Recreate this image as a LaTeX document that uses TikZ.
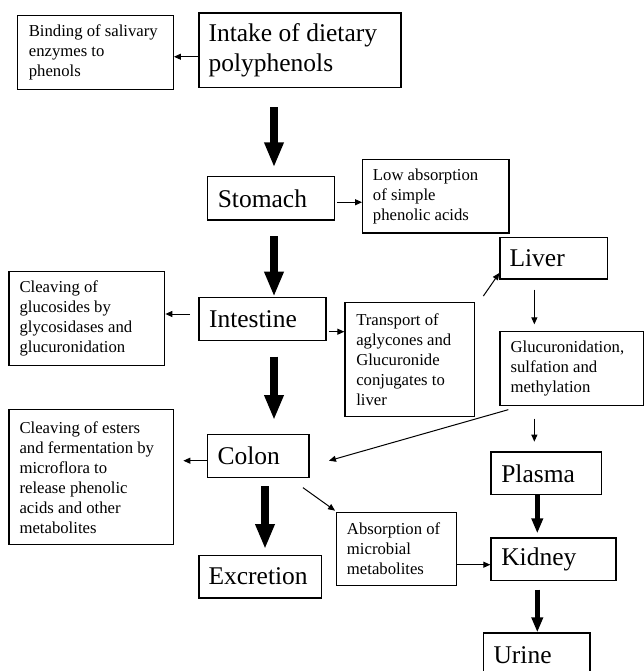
\documentclass[tikz,border=0pt]{standalone}
\usepackage{fontspec}
\setmainfont{LiberationSerif}[Extension=.ttf, UprightFont=*-Regular, BoldFont=*-Bold, ItalicFont=*-Italic, BoldItalicFont=*-BoldItalic]
\usetikzlibrary{arrows.meta}
\tikzset{
  boxshape/.style={draw, line width=1.3pt, rectangle, inner sep=0pt},
  smalltxt/.style={anchor=west, inner sep=0pt, align=left, font=\rmfamily\fontsize{16.7}{20}\selectfont},
  bigtxt/.style={anchor=west, inner sep=0pt, align=left, font=\rmfamily\fontsize{25.5}{30}\selectfont},
  thinarrow/.style={line width=1pt, -{Triangle[length=7pt,width=6pt]}},
  bigarrow/.style={line width=8pt, -{Triangle[length=25pt,width=18pt]}},
  midarrow/.style={line width=4.5pt, -{Triangle[length=15pt,width=11pt]}},
}
% \mybox{name}{left}{top}{right}{bottom}
\newcommand{\mybox}[5]{%
  \node[boxshape, minimum width={(#4-#2)*1pt}, minimum height={(#5-#3)*1pt}] (#1) at ({(#2+#4)/2},{(#3+#5)/2}) {};}
\begin{document}
\begin{tikzpicture}[x=1pt,y=-1pt]
\clip (0,0) rectangle (644,671);
\fill[white] (0,0) rectangle (644,671);

% boxes
\mybox{bind}{17.3}{15.7}{173.3}{89.3}
\mybox{intake}{199}{13}{401}{87.3}
\mybox{stomach}{207.7}{176.7}{334.3}{220}
\mybox{lowabs}{362.7}{159.3}{509}{233}
\mybox{liver}{500}{237.3}{607.7}{279}
\mybox{gluco}{9}{271.7}{164.7}{365.7}
\mybox{intestine}{199}{297.3}{326}{340.5}
\mybox{transport}{345}{302.3}{474.3}{416.7}
\mybox{gluc}{500}{331.3}{643.3}{405.7}
\mybox{esters}{9}{409.7}{173.3}{544.7}
\mybox{colon}{207.3}{434.7}{309}{477.5}
\mybox{plasma}{491}{452}{601.7}{494.7}
\mybox{absorb}{336.7}{512.3}{456.7}{585.7}
\mybox{kidney}{491}{538}{616}{580.7}
\mybox{excretion}{199}{555.3}{321.7}{598}
\mybox{urine}{483.3}{633}{590}{677}

% texts
\node[smalltxt] (tbind) at ([xshift=12pt]bind.west) {Binding of salivary\\enzymes to\\phenols};
\node[bigtxt] (tintake) at ([xshift=10pt]intake.west) {Intake of dietary\\polyphenols};
\node[bigtxt] (tstomach) at ([xshift=10.5pt]stomach.west) {Stomach};
\node[smalltxt] (tlowabs) at ([xshift=10.7pt]lowabs.west) {Low absorption\\of simple\\phenolic acids};
\node[bigtxt] (tliver) at ([xshift=10pt]liver.west) {Liver};
\node[smalltxt] (tgluco) at ([xshift=11pt]gluco.west) {Cleaving of\\glucosides by\\glycosidases and\\glucuronidation};
\node[bigtxt] (tintestine) at ([xshift=10.5pt]intestine.west) {Intestine};
\node[smalltxt] (ttransport) at ([xshift=11.7pt]transport.west) {Transport of\\aglycones and\\Glucuronide\\conjugates to\\liver};
\node[smalltxt] (tgluc) at ([xshift=11pt]gluc.west) {Glucuronidation,\\sulfation and\\methylation};
\node[smalltxt] (testers) at ([xshift=11pt]esters.west) {Cleaving of esters\\and fermentation by\\microflora to\\release phenolic\\acids and other\\metabolites};
\node[bigtxt] (tcolon) at ([xshift=10.7pt]colon.west) {Colon};
\node[bigtxt] (tplasma) at ([xshift=10.7pt]plasma.west) {Plasma};
\node[smalltxt] (tabsorb) at ([xshift=10.7pt]absorb.west) {Absorption of\\microbial\\metabolites};
\node[bigtxt] (tkidney) at ([xshift=10.7pt]kidney.west) {Kidney};
\node[bigtxt] (texcretion) at ([xshift=10pt]excretion.west) {Excretion};
\node[bigtxt] (turine) at ([xshift=10.7pt]urine.west) {Urine};

% connector end points
\coordinate (c1) at ([shift={(0,6.6)}]intake.west);
\coordinate (c2) at ([shift={(2.4,3.9)}]stomach.east);
\coordinate (c3) at ([shift={(-8.3,-4.9)}]intestine.west);
\coordinate (c4) at ([shift={(2.3,12.8)}]intestine.east);
\coordinate (c5s) at ([shift={(8.4,-5.6)}]transport.north east);
\coordinate (c5e) at ([shift={(0,-6.7)}]liver.south west);
\coordinate (c6s) at ([shift={(-19.5,10)}]liver.south);
\coordinate (c6e) at ([shift={(0,-6.3)}]c6s |- gluc.north);
\coordinate (c7s) at ([shift={(9,3.3)}]gluc.south west);
\coordinate (c7e) at ([shift={(19.3,4.6)}]colon.east);
\coordinate (c8s) at ([shift={(0,12.3)}]c6s |- gluc.south);
\coordinate (c8e) at ([shift={(0,-9.7)}]c8s |- plasma.north);
\coordinate (c9s) at ([shift={(0,4.6)}]colon.west);
\coordinate (c9e) at ([shift={(9.4,0)}]c9s -| esters.east);
\coordinate (c10s) at ([shift={(-6.7,9.5)}]colon.south east);
\coordinate (c10e) at ([shift={(-1,-1)}]absorb.north west);
\coordinate (c11) at ([shift={(0,15.7)}]absorb.east);

% thin connectors
\draw[thinarrow] (c1) -- (c1 -| bind.east);
\draw[thinarrow] (c2) -- (c2 -| lowabs.west);
\draw[thinarrow] (c3) -- (c3 -| gluco.east);
\draw[thinarrow] (c4) -- (c4 -| transport.west);
\draw[thinarrow] (c5s) -- (c5e);
\draw[thinarrow] (c6s) -- (c6e);
\draw[thinarrow] (c7s) -- (c7e);
\draw[thinarrow] (c8s) -- (c8e);
\draw[thinarrow] (c9s) -- (c9e);
\draw[thinarrow] (c10s) -- (c10e);
\draw[thinarrow] (c11) -- (c11 -| kidney.west);

% thick connectors
\coordinate (b1s) at (274,107.3);
\coordinate (b2s) at (274,236.3);
\coordinate (b3s) at (274,356.7);
\coordinate (b4s) at (265,486.3);
\draw[bigarrow] (b1s) -- ([yshift=8.7pt]b1s |- stomach.north);
\draw[bigarrow] (b2s) -- (b2s |- intestine.north);
\draw[bigarrow] (b3s) -- ([yshift=14pt]b3s |- colon.north);
\draw[bigarrow] (b4s) -- ([yshift=5.6pt]b4s |- excretion.north);
\coordinate (m1s) at (537.3,494.7);
\coordinate (m2s) at (537.3,589.7);
\draw[midarrow] (m1s) -- ([yshift=4pt]m1s |- kidney.north);
\draw[midarrow] (m2s) -- (m2s |- urine.north);
\end{tikzpicture}
\end{document}
